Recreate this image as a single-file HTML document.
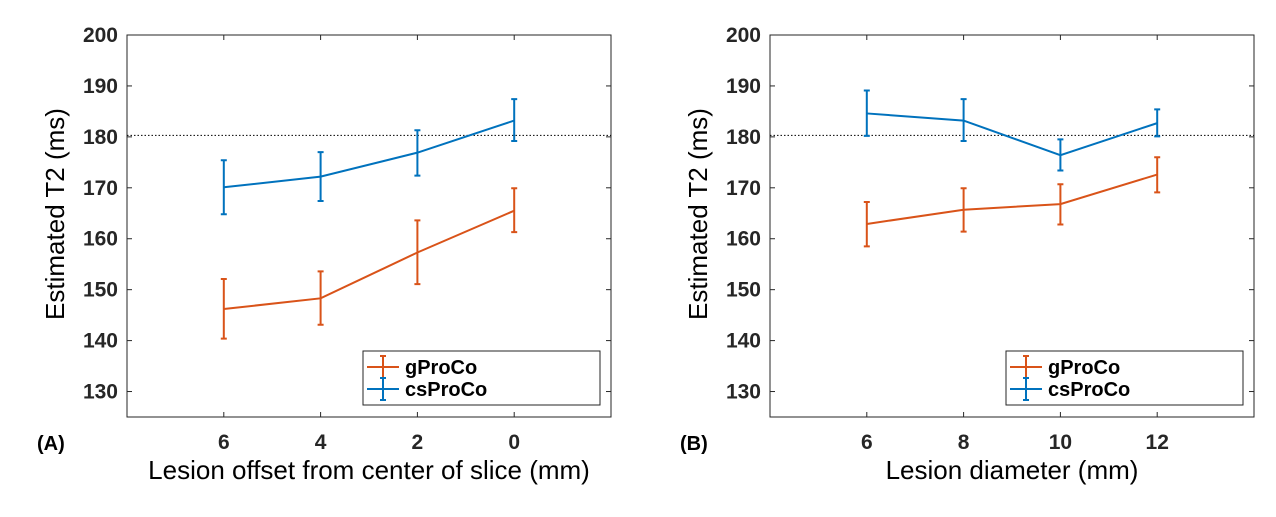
<!DOCTYPE html>
<html><head><meta charset="utf-8"><style>
body{margin:0;background:#fff;width:1276px;height:517px;overflow:hidden}
svg{display:block;font-family:"Liberation Sans",sans-serif}
</style></head><body>
<svg id="c" width="1276" height="517"></svg>
<script>
const seriesNames=["gProCo","csProCo"];
const colors=["#D95319","#0072BD"];
const yTicks=[130,140,150,160,170,180,190,200];
const refLine=180.3;
const xA=[6,4,2,0];
const gA=[146.2,148.3,157.3,165.5];
const gALo=[140.4,143.1,151.1,161.3];
const gAHi=[152.1,153.6,163.6,169.9];
const cA=[170.1,172.2,176.9,183.2];
const cALo=[164.8,167.4,172.4,179.2];
const cAHi=[175.4,177.0,181.3,187.4];
const xB=[6,8,10,12];
const gB=[162.9,165.7,166.8,172.6];
const gBLo=[158.5,161.4,162.8,169.1];
const gBHi=[167.2,169.9,170.7,176.0];
const cB=[184.6,183.2,176.4,182.7];
const cBLo=[180.2,179.2,173.4,180.1];
const cBHi=[189.1,187.4,179.5,185.4];

const svg=document.getElementById('c');
const NS="http://www.w3.org/2000/svg";
function mk(t,a,p){const e=document.createElementNS(NS,t);for(const k in a)e.setAttribute(k,a[k]);(p||svg).appendChild(e);return e;}
const Y0=35,Y1=417,yMin=125,yMax=200;
const ys=v=>Y1-(v-yMin)/(yMax-yMin)*(Y1-Y0);

function panel(id,L,R,xd,xs,xlab,tag,ser){
  const g=mk('g',{});
  
  
  const xsc=v=>L+(v-xd[0])/(xd[1]-xd[0])*(R-L);
  mk('rect',{x:L,y:Y0,width:R-L,height:Y1-Y0,fill:'#fff',stroke:'#262626','stroke-width':1},g);
  yTicks.forEach(t=>{const y=ys(t);
    mk('line',{x1:L,x2:L+5,y1:y,y2:y,stroke:'#262626'},g);
    mk('line',{x1:R,x2:R-5,y1:y,y2:y,stroke:'#262626'},g);
    const tx=mk('text',{x:L-9,y:y+7,'text-anchor':'end','font-size':21,'font-weight':'bold',fill:'#262626'},g);tx.textContent=t;
    });
  xs.forEach(t=>{const x=xsc(t);
    mk('line',{x1:x,x2:x,y1:Y1,y2:Y1-5,stroke:'#262626'},g);
    mk('line',{x1:x,x2:x,y1:Y0,y2:Y0+5,stroke:'#262626'},g);
    const tx=mk('text',{x:x,y:Y1+32,'text-anchor':'middle','font-size':21,'font-weight':'bold',fill:'#262626'},g);tx.textContent=t;
    });
  mk('line',{x1:L,x2:R,y1:ys(refLine),y2:ys(refLine),stroke:'#000','stroke-dasharray':'1.5,2'},g);
  ser.forEach((s,i)=>{
    const pts=xs.map((x,j)=>xsc(x)+','+ys(s.v[j])).join(' ');
    const pl=mk('polyline',{points:pts,fill:'none',stroke:colors[i],'stroke-width':2},g);
    
    xs.forEach((x,j)=>{const X=xsc(x),a=ys(s.lo[j]),b=ys(s.hi[j]);
      const eb=mk('path',{d:`M${X},${a}V${b}M${X-3},${a}H${X+3}M${X-3},${b}H${X+3}`,stroke:colors[i],'stroke-width':2,fill:'none'},g);
      });
  });
  const lx=R-248,ly=351;
  const lg=mk('g',{},g);
  
  mk('rect',{x:lx,y:ly,width:237,height:54,fill:'#fff',stroke:'#262626'},lg);
  seriesNames.forEach((n,i)=>{const yy=ly+16+i*22;
    mk('path',{d:`M${lx+4},${yy}H${lx+36}M${lx+20},${yy-11}V${yy+11}M${lx+17},${yy-11}H${lx+23}M${lx+17},${yy+11}H${lx+23}`,stroke:colors[i],'stroke-width':2,fill:'none'},lg);
    const t=mk('text',{x:lx+42,y:yy+7,'font-size':20,'font-weight':'bold',fill:'#000'},lg);t.textContent=n;
    });
  const xl=mk('text',{x:(L+R)/2,y:479,'text-anchor':'middle','font-size':26,fill:'#000'},g);xl.textContent=xlab;
  
  const yl=mk('text',{x:0,y:0,'text-anchor':'middle','font-size':26,fill:'#000',transform:`translate(${L-63},${(Y0+Y1)/2-12}) rotate(-90)`},g);yl.textContent='Estimated T2 (ms)';
  
  const tg=mk('text',{x:L-90,y:450,'font-size':20,'font-weight':'bold',fill:'#000'},g);tg.textContent=tag;
  
}
panel('panel-a',127,611,[8,-2],xA,'Lesion offset from center of slice (mm)','(A)',
  [{v:gA,lo:gALo,hi:gAHi},{v:cA,lo:cALo,hi:cAHi}]);
panel('panel-b',770,1254,[4,14],xB,'Lesion diameter (mm)','(B)',
  [{v:gB,lo:gBLo,hi:gBHi},{v:cB,lo:cBLo,hi:cBHi}]);
</script>
</body></html>
